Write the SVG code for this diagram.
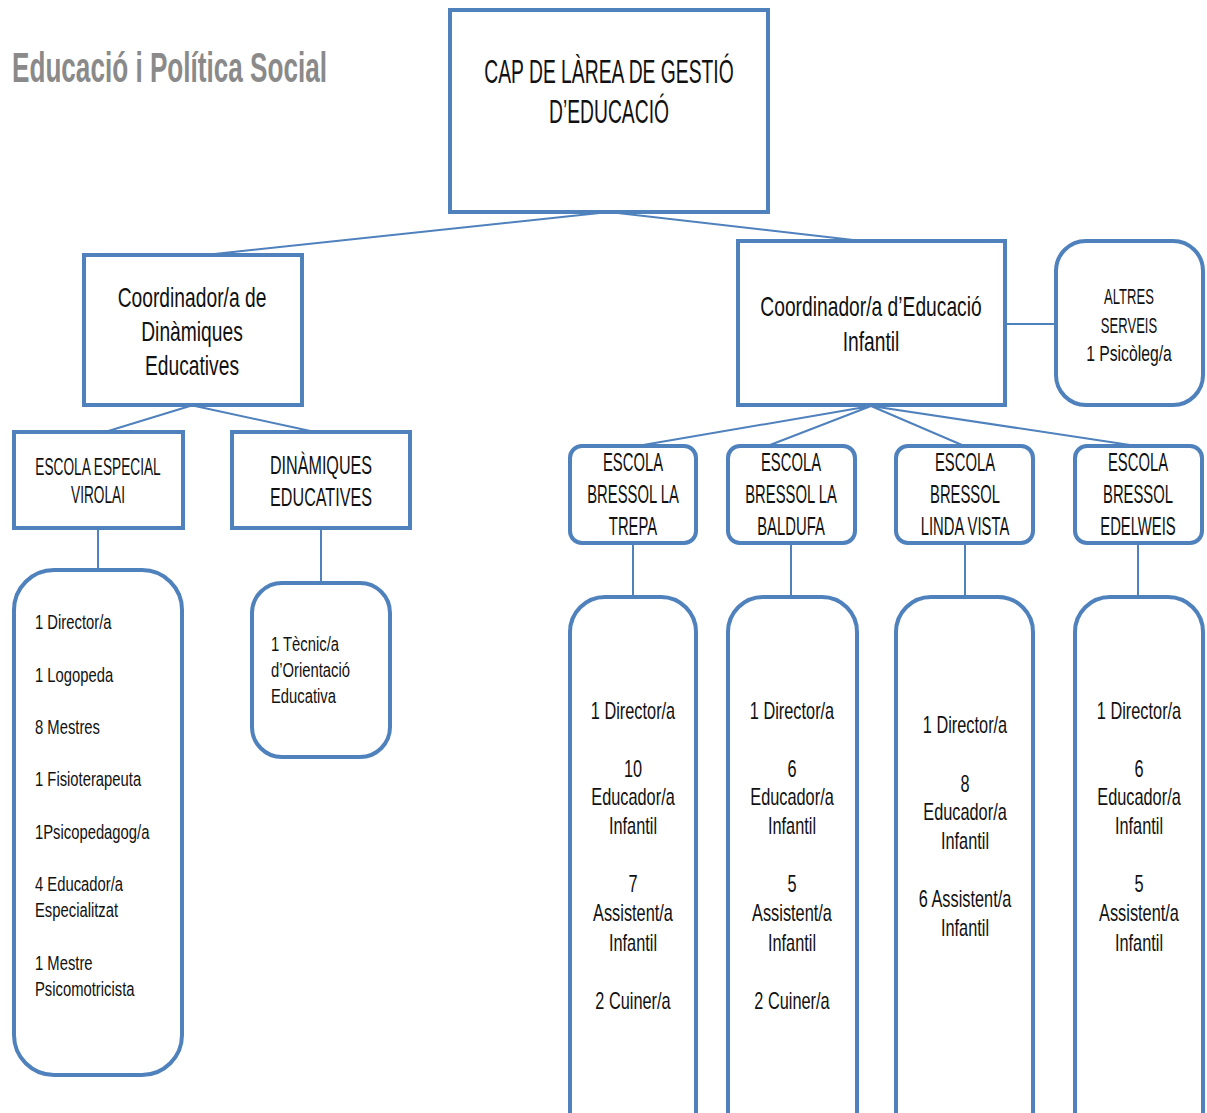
<svg xmlns="http://www.w3.org/2000/svg" width="1207" height="1113" viewBox="0 0 1207 1113">
<style>
.b{fill:#fff;stroke:#4F81BD;stroke-width:4}
.c{fill:none;stroke:#4F81BD;stroke-width:2}
text{font-family:"Liberation Sans",Arial,sans-serif;fill:#111}
.m{text-anchor:middle}
.h{font-size:33px}
.k{font-size:27.5px}
.e{font-size:26px}
.v{font-size:24px}
.a{font-size:22.5px}
.s{font-size:19.5px}
.r{font-size:23px}
</style>
<rect width="1207" height="1113" fill="#fff"/>
<text x="12" y="82" textLength="315" lengthAdjust="spacingAndGlyphs" style="font-size:43px;fill:#8a8a8a;font-weight:bold">Educació i Política Social</text>
<g id="connectors">
<path class="c" d="M609 212 L205 255 M609 212 L862 241"/>
<path class="c" d="M190 406 L105 432 M195 406 L315 432"/>
<path class="c" d="M98 528 V570 M321 528 V583"/>
<path class="c" d="M1005 324 H1056"/>
<path class="c" d="M871 406 L643 445 M871 406 L770 445 M871 406 L962 445 M871 406 L1130 445"/>
<path class="c" d="M633 543 V597 M791 543 V597 M965 543 V597 M1138 543 V597"/>
</g>
<g id="cap">
<rect class="b" x="450" y="10" width="318" height="202"/>
<text class="m h" transform="translate(609 83) scale(.585 1)">CAP DE LÀREA DE GESTIÓ</text>
<text class="m h" transform="translate(609 123) scale(.585 1)">D’EDUCACIÓ</text>
</g>
<g id="coord-dinamiques">
<rect class="b" x="84" y="255" width="218" height="150"/>
<text class="m k" transform="translate(192 307) scale(.7 1)">Coordinador/a de</text>
<text class="m k" transform="translate(192 341) scale(.7 1)">Dinàmiques</text>
<text class="m k" transform="translate(192 375) scale(.7 1)">Educatives</text>
</g>
<g id="virolai">
<rect class="b" x="14" y="432" width="169" height="96"/>
<text class="m v" transform="translate(98 475) scale(.57 1)">ESCOLA ESPECIAL</text>
<text class="m v" transform="translate(98 503) scale(.57 1)">VIROLAI</text>
</g>
<g id="dinamiques">
<rect class="b" x="232" y="432" width="178" height="96"/>
<text class="m e" transform="translate(321 474) scale(.62 1)">DINÀMIQUES</text>
<text class="m e" transform="translate(321 506) scale(.62 1)">EDUCATIVES</text>
</g>
<g id="virolai-staff">
<rect class="b" x="14" y="570" width="168" height="505" rx="40"/>
<text class="s" transform="translate(35 629) scale(.76 1)">1 Director/a</text>
<text class="s" transform="translate(35 682) scale(.76 1)">1 Logopeda</text>
<text class="s" transform="translate(35 734) scale(.76 1)">8 Mestres</text>
<text class="s" transform="translate(35 786) scale(.76 1)">1 Fisioterapeuta</text>
<text class="s" transform="translate(35 839) scale(.76 1)">1Psicopedagog/a</text>
<text class="s" transform="translate(35 891) scale(.76 1)">4 Educador/a</text>
<text class="s" transform="translate(35 917) scale(.76 1)">Especialitzat</text>
<text class="s" transform="translate(35 970) scale(.76 1)">1 Mestre</text>
<text class="s" transform="translate(35 996) scale(.76 1)">Psicomotricista</text>
</g>
<g id="dinamiques-staff">
<rect class="b" x="252" y="583" width="138" height="174" rx="30"/>
<text class="s" transform="translate(271 651) scale(.76 1)">1 Tècnic/a</text>
<text class="s" transform="translate(271 677) scale(.76 1)">d’Orientació</text>
<text class="s" transform="translate(271 703) scale(.76 1)">Educativa</text>
</g>
<g id="coord-infantil">
<rect class="b" x="738" y="241" width="267" height="164"/>
<text class="m k" transform="translate(871 316) scale(.7 1)">Coordinador/a d’Educació</text>
<text class="m k" transform="translate(871 351) scale(.7 1)">Infantil</text>
</g>
<g id="altres">
<rect class="b" x="1056" y="241" width="147" height="164" rx="30"/>
<text class="m a" transform="translate(1129 304) scale(.58 1)">ALTRES</text>
<text class="m a" transform="translate(1129 333) scale(.58 1)">SERVEIS</text>
<text class="m a" transform="translate(1129 361) scale(.7 1)">1 Psicòleg/a</text>
</g>
<g id="trepa">
<rect class="b" x="570" y="446" width="126" height="97" rx="12"/>
<text class="m e" transform="translate(633 471) scale(.57 1)">ESCOLA</text>
<text class="m e" transform="translate(633 503) scale(.57 1)">BRESSOL LA</text>
<text class="m e" transform="translate(633 535) scale(.57 1)">TREPA</text>
</g>
<g id="baldufa">
<rect class="b" x="728" y="446" width="127" height="97" rx="12"/>
<text class="m e" transform="translate(791 471) scale(.57 1)">ESCOLA</text>
<text class="m e" transform="translate(791 503) scale(.57 1)">BRESSOL LA</text>
<text class="m e" transform="translate(791 535) scale(.57 1)">BALDUFA</text>
</g>
<g id="lindavista">
<rect class="b" x="896" y="446" width="137" height="97" rx="12"/>
<text class="m e" transform="translate(965 471) scale(.57 1)">ESCOLA</text>
<text class="m e" transform="translate(965 503) scale(.57 1)">BRESSOL</text>
<text class="m e" transform="translate(965 535) scale(.57 1)">LINDA VISTA</text>
</g>
<g id="edelweis">
<rect class="b" x="1075" y="446" width="127" height="97" rx="12"/>
<text class="m e" transform="translate(1138 471) scale(.57 1)">ESCOLA</text>
<text class="m e" transform="translate(1138 503) scale(.57 1)">BRESSOL</text>
<text class="m e" transform="translate(1138 535) scale(.57 1)">EDELWEIS</text>
</g>
<g id="trepa-staff">
<rect class="b" x="570" y="597" width="126" height="560" rx="35"/>
<text class="m r" transform="translate(633 719) scale(.71 1)">1 Director/a</text>
<text class="m r" transform="translate(633 777) scale(.71 1)">10</text>
<text class="m r" transform="translate(633 805) scale(.71 1)">Educador/a</text>
<text class="m r" transform="translate(633 834) scale(.71 1)">Infantil</text>
<text class="m r" transform="translate(633 892) scale(.71 1)">7</text>
<text class="m r" transform="translate(633 921) scale(.71 1)">Assistent/a</text>
<text class="m r" transform="translate(633 951) scale(.71 1)">Infantil</text>
<text class="m r" transform="translate(633 1009) scale(.71 1)">2 Cuiner/a</text>
</g>
<g id="baldufa-staff">
<rect class="b" x="728" y="597" width="129" height="560" rx="35"/>
<text class="m r" transform="translate(792 719) scale(.71 1)">1 Director/a</text>
<text class="m r" transform="translate(792 777) scale(.71 1)">6</text>
<text class="m r" transform="translate(792 805) scale(.71 1)">Educador/a</text>
<text class="m r" transform="translate(792 834) scale(.71 1)">Infantil</text>
<text class="m r" transform="translate(792 892) scale(.71 1)">5</text>
<text class="m r" transform="translate(792 921) scale(.71 1)">Assistent/a</text>
<text class="m r" transform="translate(792 951) scale(.71 1)">Infantil</text>
<text class="m r" transform="translate(792 1009) scale(.71 1)">2 Cuiner/a</text>
</g>
<g id="lindavista-staff">
<rect class="b" x="896" y="597" width="137" height="560" rx="35"/>
<text class="m r" transform="translate(965 733) scale(.71 1)">1 Director/a</text>
<text class="m r" transform="translate(965 792) scale(.71 1)">8</text>
<text class="m r" transform="translate(965 820) scale(.71 1)">Educador/a</text>
<text class="m r" transform="translate(965 849) scale(.71 1)">Infantil</text>
<text class="m r" transform="translate(965 907) scale(.71 1)">6 Assistent/a</text>
<text class="m r" transform="translate(965 936) scale(.71 1)">Infantil</text>
</g>
<g id="edelweis-staff">
<rect class="b" x="1075" y="597" width="128" height="560" rx="35"/>
<text class="m r" transform="translate(1139 719) scale(.71 1)">1 Director/a</text>
<text class="m r" transform="translate(1139 777) scale(.71 1)">6</text>
<text class="m r" transform="translate(1139 805) scale(.71 1)">Educador/a</text>
<text class="m r" transform="translate(1139 834) scale(.71 1)">Infantil</text>
<text class="m r" transform="translate(1139 892) scale(.71 1)">5</text>
<text class="m r" transform="translate(1139 921) scale(.71 1)">Assistent/a</text>
<text class="m r" transform="translate(1139 951) scale(.71 1)">Infantil</text>
</g>
</svg>
